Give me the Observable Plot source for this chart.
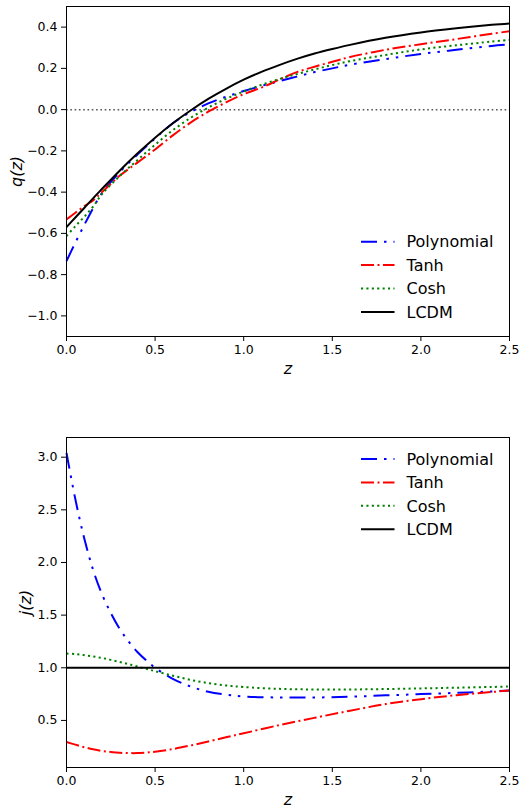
<!DOCTYPE html>
<html><head><meta charset="utf-8">
<script src="https://cdn.jsdelivr.net/npm/d3@7"></script>
<script src="https://cdn.jsdelivr.net/npm/@observablehq/plot@0.6"></script>
<style>
body{margin:0;background:#fff;}
#wrap{position:relative;width:519px;height:807px;font-family:"DejaVu Sans",sans-serif;}
#wrap svg{display:block}
#legend{position:absolute;left:0;top:0;pointer-events:none}
</style></head><body><div id="wrap"></div>
<script>
// ---- data: deceleration parameter q(z) ----
const zQ = [0,0.05,0.1,0.15,0.2,0.3,0.4,0.5,0.6,0.7,0.8,0.9,1.0,1.1,1.2,1.3,1.4,1.5,1.6,1.8,2.0,2.2,2.4,2.5];
const qPolynomial = [-0.734,-0.645,-0.56,-0.478,-0.405,-0.303,-0.218,-0.14,-0.066,-0.012,0.03,0.062,0.09,0.115,0.138,0.16,0.182,0.2,0.218,0.245,0.27,0.29,0.309,0.316];
const qTanh = [-0.532,-0.5,-0.468,-0.44,-0.40,-0.321,-0.257,-0.193,-0.125,-0.063,-0.01,0.035,0.075,0.107,0.145,0.182,0.208,0.232,0.255,0.29,0.317,0.342,0.368,0.38];
const qCosh = [-0.613,-0.565,-0.52,-0.47,-0.41,-0.322,-0.245,-0.17,-0.1,-0.04,0.01,0.052,0.088,0.12,0.148,0.172,0.195,0.216,0.235,0.265,0.292,0.312,0.33,0.338];
const qLCDM = [-0.57,-0.523,-0.477,-0.430,-0.385,-0.296,-0.213,-0.136,-0.066,-0.004,0.052,0.101,0.145,0.183,0.216,0.246,0.272,0.294,0.314,0.348,0.374,0.394,0.411,0.418];

// ---- data: jerk parameter j(z) ----
const zJ = [0,0.05,0.1,0.15,0.2,0.25,0.3,0.35,0.4,0.45,0.5,0.6,0.7,0.8,0.9,1.0,1.2,1.4,1.6,1.8,2.0,2.2,2.4,2.5];
const jPolynomial = [3.04,2.60,2.23,1.93,1.70,1.52,1.37,1.25,1.15,1.07,1.0,0.895,0.822,0.772,0.745,0.728,0.718,0.718,0.725,0.738,0.75,0.762,0.775,0.784];
const jTanh = [0.295,0.27,0.246,0.226,0.21,0.2,0.193,0.19,0.19,0.195,0.203,0.228,0.262,0.3,0.34,0.378,0.455,0.525,0.592,0.655,0.702,0.74,0.77,0.784];
const jCosh = [1.135,1.13,1.12,1.107,1.093,1.075,1.055,1.035,1.012,0.99,0.968,0.925,0.885,0.855,0.832,0.817,0.8,0.794,0.794,0.798,0.804,0.811,0.818,0.822];
const jLCDM = [1,1,1,1,1,1,1,1,1,1,1,1,1,1,1,1,1,1,1,1,1,1,1,1];

// ---- labels / ticks ----
const seriesNames = ["Polynomial","Tanh","Cosh","LCDM"];
const seriesColors = ["#0000ff","#ff0000","#008000","#000000"];
const seriesDash = ["16,7,2.5,7,2.5,7","13,3.5,2,3.5","2.1,3.3",null];
const xTicks = [0,0.5,1.0,1.5,2.0,2.5];
const qTicks = [-1.0,-0.8,-0.6,-0.4,-0.2,0.0,0.2,0.4];
const jTicks = [0.5,1.0,1.5,2.0,2.5,3.0];

const fmt = d3.format(".1f");
const plotStyle = {fontFamily:"DejaVu Sans", fontSize:"12.5px", color:"#000", background:"#fff", overflow:"visible"};

function seriesLines(z, arrays) {
  return arrays.map((vals, i) => {
    const rows = z.map((zz, k) => ({z: zz, v: vals[k]}));
    const opts = {x:"z", y:"v", stroke: seriesColors[i], strokeWidth: 2, curve:"catmull-rom", strokeLinecap:"butt", strokeLinejoin:"round"};
    if (seriesDash[i]) opts.strokeDasharray = seriesDash[i];
    return Plot.line(rows, opts);
  });
}

const qChart = Plot.plot({
  width:519, height:400, marginLeft:66, marginRight:10, marginTop:6, marginBottom:64,
  x:{domain:[0,2.5]}, y:{domain:[-1.1,0.5]},
  style: plotStyle,
  marks:[
    Plot.ruleY([0], {stroke:"#555", strokeWidth:1.5, strokeDasharray:"1.6,2.7"}),
    ...seriesLines(zQ, [qPolynomial, qTanh, qCosh, qLCDM]),
    Plot.frame({stroke:"#000"}),
    Plot.axisX({ticks:xTicks, tickFormat:fmt, tickSize:5, tickPadding:4, label:null}),
    Plot.axisY({ticks:qTicks, tickFormat:fmt, tickSize:5, tickPadding:4, label:null}),
    Plot.text(["q(z)"], {frameAnchor:"left", dx:-50, rotate:-90, fontSize:16, fontStyle:"italic", textAnchor:"middle", lineAnchor:"middle"}),
    Plot.text(["z"], {frameAnchor:"bottom", dy:32, fontSize:16, fontStyle:"italic", textAnchor:"middle", lineAnchor:"middle"})
  ]
});

const jChart = Plot.plot({
  width:519, height:407, marginLeft:66, marginRight:10, marginTop:37, marginBottom:40,
  x:{domain:[0,2.5]}, y:{domain:[0.053,3.187]},
  style: plotStyle,
  marks:[
    ...seriesLines(zJ, [jPolynomial, jTanh, jCosh, jLCDM]),
    Plot.frame({stroke:"#000"}),
    Plot.axisX({ticks:xTicks, tickFormat:fmt, tickSize:5, tickPadding:4, label:null}),
    Plot.axisY({ticks:jTicks, tickFormat:fmt, tickSize:5, tickPadding:4, label:null}),
    Plot.text(["j(z)"], {frameAnchor:"left", dx:-41, rotate:-90, fontSize:16, fontStyle:"italic", textAnchor:"middle", lineAnchor:"middle"}),
    Plot.text(["z"], {frameAnchor:"bottom", dy:32, fontSize:16, fontStyle:"italic", textAnchor:"middle", lineAnchor:"middle"})
  ]
});

const wrap = document.getElementById("wrap");
wrap.appendChild(qChart);
wrap.appendChild(jChart);

// ---- legends (overlay) ----
const lg = d3.select(wrap).append("svg").attr("id","legend").attr("width",519).attr("height",807);
function legend(rowTop) {
  const g = lg.append("g");
  seriesNames.forEach((name, i) => {
    const y = rowTop + i * 23.4;
    const ln = g.append("line").attr("x1",361).attr("x2",394.5).attr("y1",y).attr("y2",y)
      .attr("stroke",seriesColors[i]).attr("stroke-width",2).attr("stroke-linecap","butt");
    if (seriesDash[i]) ln.attr("stroke-dasharray", seriesDash[i]);
    g.append("text").attr("x",406.5).attr("y",y).attr("dy","0.36em")
      .attr("font-family","DejaVu Sans").attr("font-size",16).attr("fill","#000").text(name);
  });
}
legend(241.7);
legend(459);
</script></body></html>
